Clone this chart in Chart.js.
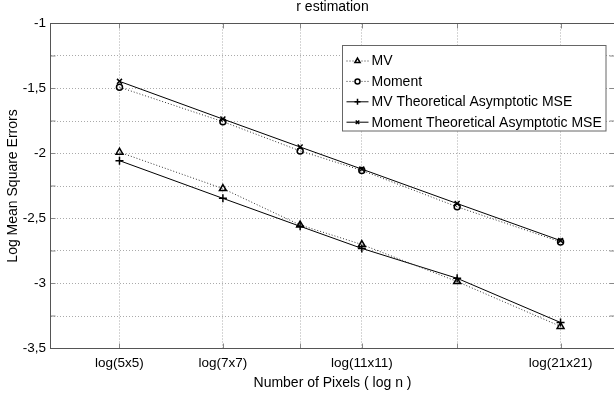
<!DOCTYPE html>
<html>
<head>
<meta charset="utf-8">
<script src="https://cdn.jsdelivr.net/npm/chart.js@4/dist/chart.umd.min.js"></script>
<style>
    html, body {margin: 0; padding: 0; background: #fff; overflow: hidden;}
    #wrap {width: 614px; height: 398px; overflow: hidden;}
</style>
</head>
<body>
<div id="wrap"><canvas id="myChart" width="620" height="398"></canvas></div>
<script>
// image sizes (n = pixels), x axis is log n
var pixelCounts = [25, 49, 81, 121, 225, 441];
var xTickNames = ["log(5x5)", "log(7x7)", "", "log(11x11)", "", "log(21x21)"];

// log mean square errors
var mvValues = [-1.99, -2.27, -2.55, -2.70, -2.985, -3.33];
var momentValues = [-1.49, -1.755, -1.98, -2.13, -2.41, -2.68];
var mvTheory = [-2.055, -2.345, -2.56, -2.73, -2.96, -3.30];
var momentTheory = [-1.445, -1.735, -1.95, -2.12, -2.385, -2.67];

var seriesNames = ["MV", "Moment", "MV Theoretical Asymptotic MSE", "Moment Theoretical Asymptotic MSE"];

var xMin = 2.77, xMax = 6.44;
var yMin = -3.5, yMax = -1, yStep = 0.25;

Chart.defaults.font.family = "'Liberation Sans', Arial, sans-serif";
Chart.defaults.color = "#111";

function points(vals) {
    return vals.map(function (v, i) {
        return {x: Math.log(pixelCounts[i]), y: v};
    });
}

function series(label, vals, style, radius, dotted) {
    return {
        label: label,
        data: points(vals),
        borderColor: dotted ? "#333" : "#000",
        borderWidth: 1,
        borderDash: dotted ? [1, 2] : [],
        pointStyle: style,
        pointRadius: radius,
        pointBorderWidth: 1.5,
        pointBorderColor: "#000",
        pointBackgroundColor: "rgba(0,0,0,0)",
        fill: false,
        tension: 0
    };
}

// axes box with inward tick marks, matlab style
var boxPlugin = {
    id: "box",
    afterDatasetsDraw: function (chart) {
        var ctx = chart.ctx, a = chart.chartArea;
        var xs = chart.scales.x, ys = chart.scales.y;
        ctx.save();
        ctx.strokeStyle = "#888";
        ctx.lineWidth = 1;
        ctx.beginPath();
        xs.ticks.forEach(function (t) {
            var px = Math.round(xs.getPixelForValue(t.value)) + 0.5;
            ctx.moveTo(px, a.bottom); ctx.lineTo(px, a.bottom - 5);
            ctx.moveTo(px, a.top); ctx.lineTo(px, a.top + 5);
        });
        ys.ticks.forEach(function (t) {
            var py = ys.getPixelForValue(t.value);
            ctx.moveTo(a.left, py); ctx.lineTo(a.left + 5, py);
            ctx.moveTo(a.right, py); ctx.lineTo(a.right - 5, py);
        });
        ctx.stroke();
        ctx.strokeStyle = "#555";
        ctx.strokeRect(a.left, a.top, a.right - a.left, a.bottom - a.top);
        ctx.restore();
    }
};

// legend box inside the plot, top right
var legendBox = {
    id: "legendBox",
    afterDraw: function (chart) {
        var ctx = chart.ctx;
        var left = 342.5, top = 45.5, w = 263.5, h = 85.5;
        var rowH = 20.4, firstRow = top + 15.5;
        ctx.save();
        ctx.fillStyle = "#fff";
        ctx.fillRect(left, top, w, h);
        ctx.strokeStyle = "#666";
        ctx.lineWidth = 1;
        ctx.strokeRect(left, top, w, h);
        chart.data.datasets.forEach(function (ds, i) {
            var y = firstRow + i * rowH;
            ctx.strokeStyle = ds.borderColor;
            ctx.lineWidth = 1;
            ctx.setLineDash(ds.borderDash);
            ctx.beginPath();
            ctx.moveTo(left + 4, y);
            ctx.lineTo(left + 26, y);
            ctx.stroke();
            ctx.setLineDash([]);
            ctx.strokeStyle = "#000";
            ctx.fillStyle = "#fff";
            ctx.lineWidth = 1.5;
            Chart.helpers.drawPoint(ctx, {
                pointStyle: ds.pointStyle,
                rotation: 0,
                radius: Math.max(ds.pointRadius - 1, 2.5),
                borderWidth: 1.5
            }, left + 15, y);
            ctx.fillStyle = "#000";
            ctx.font = "14px 'Liberation Sans', Arial, sans-serif";
            ctx.textBaseline = "middle";
            ctx.textAlign = "left";
            ctx.fillText(ds.label, left + 29, y + 0.5);
        });
        ctx.restore();
    }
};

new Chart("myChart", {
    type: "line",
    data: {
        datasets: [
            series(seriesNames[0], mvValues, "triangle", 4, true),
            series(seriesNames[1], momentValues, "circle", 3, true),
            series(seriesNames[2], mvTheory, "cross", 4, false),
            series(seriesNames[3], momentTheory, "crossRot", 3.5, false)
        ]
    },
    options: {
        responsive: false,
        animation: false,
        layout: {padding: {left: 0, right: 5, top: 0, bottom: 0}},
        plugins: {
            legend: {display: false},
            tooltip: {enabled: false},
            title: {
                display: true,
                text: "r estimation",
                fullSize: false,
                color: "#000",
                font: {size: 14, weight: "normal", lineHeight: 1},
                padding: {top: 0, bottom: 9.5}
            }
        },
        scales: {
            x: {
                type: "linear",
                min: xMin,
                max: xMax,
                afterBuildTicks: function (s) {
                    s.ticks = pixelCounts.map(function (n) { return {value: Math.log(n)}; });
                },
                afterFit: function (s) { s.height = 49.5; },
                ticks: {
                    autoSkip: false,
                    maxRotation: 0,
                    padding: 7,
                    font: {size: 13.5},
                    color: "#000",
                    callback: function (v, i) { return xTickNames[i]; }
                },
                grid: {color: "#aaa", drawTicks: false, lineWidth: 1},
                border: {display: false, dash: [1, 2]},
                title: {
                    display: true,
                    text: "Number of Pixels ( log n )",
                    color: "#000",
                    font: {size: 14, lineHeight: 1},
                    padding: {top: 0, bottom: 8}
                }
            },
            y: {
                min: yMin,
                max: yMax,
                afterFit: function (s) { s.width = 50.5; },
                ticks: {
                    stepSize: yStep,
                    padding: 4.5,
                    font: {size: 13.5},
                    color: "#000",
                    callback: function (v) {
                        if (Math.abs(v * 2 - Math.round(v * 2)) > 1e-6) return "";
                        return String(v).replace(".", ",");
                    }
                },
                grid: {color: "#aaa", drawTicks: false, lineWidth: 1},
                border: {display: false, dash: [1, 2]},
                title: {
                    display: true,
                    text: "Log Mean Square Errors",
                    color: "#000",
                    font: {size: 14, lineHeight: 1},
                    padding: {top: 6.3, bottom: 0}
                }
            }
        }
    },
    plugins: [boxPlugin, legendBox]
});
</script>
</body>
</html>
